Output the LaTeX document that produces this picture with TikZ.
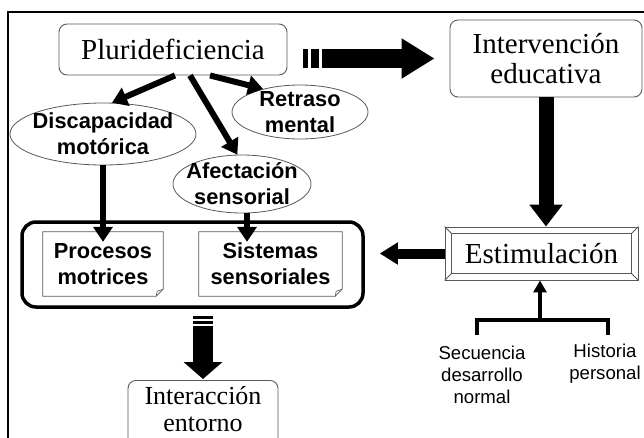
\documentclass[tikz,border=0pt]{standalone}
\usepackage{fontspec}
\setmainfont{Liberation Serif}[Ligatures=CommonOff]
\setsansfont{Liberation Sans}
\usetikzlibrary{arrows.meta,shapes.geometric,calc}
\begin{document}
\begin{tikzpicture}[x=1pt,y=-1pt,
  serif/.style={font=\fontsize{29}{30}\selectfont},
  boxr/.style={draw=black!65, line width=0.9pt, rounded corners=8pt, align=center, inner sep=0pt},
  ell/.style={ellipse, draw=black!65, line width=0.8pt, inner sep=0pt},
  btxt/.style={font=\fontsize{21.8}{26}\selectfont\sffamily\bfseries, align=center, inner sep=0pt},
  stxt/.style={font=\fontsize{18.6}{22}\selectfont\sffamily, align=center, inner sep=0pt},
  notedraw/.style={draw=black!65, line width=0.8pt},
  arr/.style={line width=6pt, -{Triangle[width=19pt,length=15pt]}}
]
\clip (0,0) rectangle (644,437);
\fill[white] (0,0) rectangle (644,437);
% frame
\draw[line width=1.5pt] (8,445) -- (8,12) -- (650,12);

% nodes
\node[boxr, serif, minimum width=228pt, minimum height=51pt] (plur) at (173,49.5) {Pluridefi{}ciencia};
\node[boxr, serif, minimum width=192pt, minimum height=77pt] (interv) at (546,58.5) {Intervención\\educativa};
\node[draw=black!65, line width=0.9pt, serif, minimum width=193pt, minimum height=53pt, inner sep=0pt] (estim) at (541.5,253.5) {Estimulación};
\draw[notedraw] ($(estim.north west)+(7,7)$) rectangle ($(estim.south east)+(-7,-7)$);
\draw[notedraw] (estim.north west) -- +(7,7);
\draw[notedraw] (estim.north east) -- +(-7,7);
\draw[notedraw] (estim.south west) -- +(7,-7);
\draw[notedraw] (estim.south east) -- +(-7,-7);

\node[ell, minimum width=186pt, minimum height=62pt] (disc) at (103,134) {};
\node[btxt] (disct) at (disc) {Discapacidad\\motórica};
\node[ell, minimum width=136pt, minimum height=54pt] (retr) at (300,112) {};
\node[btxt] (retrt) at (retr) {Retraso\\mental};
\node[ell, minimum width=138pt, minimum height=58pt] (afec) at (242,184) {};
\node[btxt] (afect) at (afec) {Afectación\\sensorial};

\node[draw, line width=3.5pt, rounded corners=14pt, minimum width=341pt, minimum height=85pt] (cont) at (192.5,264.5) {};
\node[btxt, minimum width=120pt, minimum height=64pt] (proc) at (103,264) {Procesos\\motrices};
\node[btxt, minimum width=143pt, minimum height=64pt] (sist) at (270.5,264) {Sistemas\\sensoriales};
\foreach \n in {proc,sist}{
  \draw[notedraw] (\n.north west) -- (\n.north east) -- ($(\n.south east)+(0,-7)$) -- ($(\n.south east)+(-7,0)$) -- (\n.south west) -- cycle;
  \draw[draw=black!65, line width=0.6pt] ($(\n.south east)+(0,-7)$) -- ($(\n.south east)+(-6,-5)$) -- ($(\n.south east)+(-7,0)$);
}

\node[boxr, minimum width=150pt, minimum height=76pt, anchor=north] (inter) at (203,380) {};
\node[font=\fontsize{26}{27}\selectfont, align=center, inner sep=0pt] (intert) at (203,409) {Interacción\\entorno};

\node[stxt] (sec) at (482,375) {Secuencia\\desarrollo\\normal};
\node[stxt] (hist) at (605,364) {Historia\\personal};

% bracket
\coordinate (bl) at (477,335);
\coordinate (br) at (608,335);
\coordinate (bm) at (540,320);
\draw[line width=4pt] (bl) -- (bl |- bm) -- (br |- bm) -- (br);
\draw[line width=4pt, -{Triangle[width=13pt,length=12pt]}] (bm) -- (bm |- estim.south);

% arrows
\draw[arr] ($(plur.south)+(2,0)$) -- (disc.74);
\draw[arr] ($(plur.south)+(17,0)$) -- (afec.99);
\draw[arr] ($(plur.south)+(37,0)$) -- (retr.148);
\draw[arr] (disc.south) -- ($(disc.south |- proc.north)+(0,10)$);
\draw[arr] ($(afec.south)+(5,0)$) -- ($(afec.south |- sist.north)+(5,10)$);

\draw[line width=15pt, -{Triangle[width=32pt,length=22pt]}] (interv.south) -- (interv.south |- estim.north);
\draw[line width=10pt, -{Triangle[width=21pt,length=18pt]}] (estim.west) -- ($(estim.west -| cont.east)+(15,0)$);

\draw[line width=19pt, dash pattern=on 5pt off 3pt on 8pt off 3pt on 400pt off 1pt, -{Triangle[width=38pt,length=33pt]}] ($(plur.east |- interv.west)+(16,0)$) -- ($(interv.west)+(-15,0)$);
\draw[line width=20pt, dash pattern=on 2.5pt off 2.5pt on 2.5pt off 2pt on 400pt off 1pt, -{Triangle[width=38pt,length=17pt]}] ($(inter.north)+(0,-64)$) -- ($(inter.north)+(0,-1)$);
\end{tikzpicture}
\end{document}
